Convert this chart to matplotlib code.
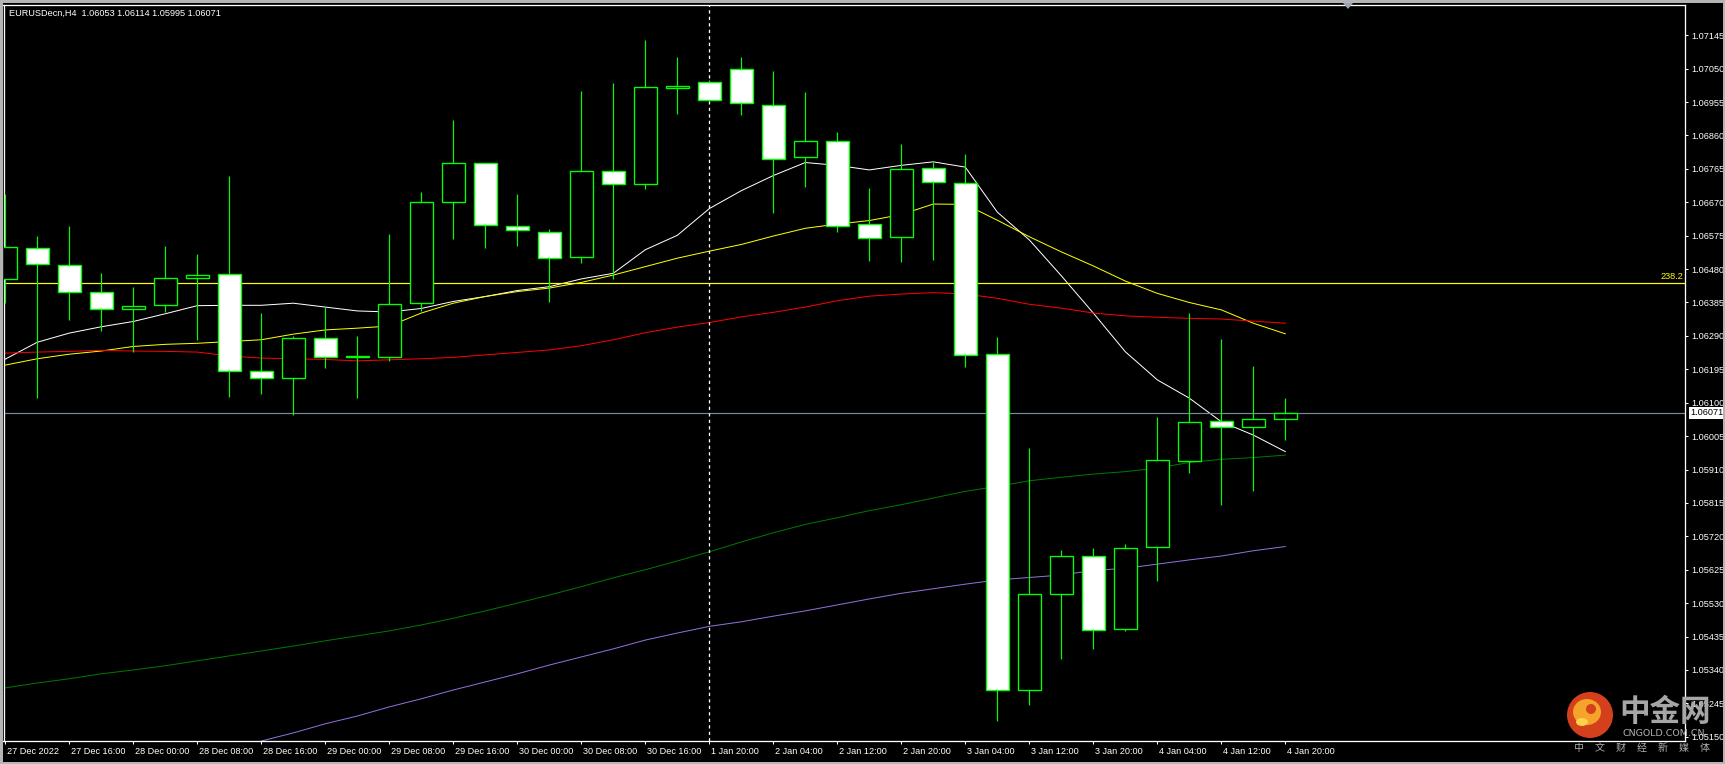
import matplotlib
matplotlib.use('Agg')                                   # no display in the sandbox
import matplotlib.pyplot as plt
import matplotlib.patches as mpatches
import matplotlib.transforms as mtrans
import numpy as np

# ---- EURUSDecn H4 candles, left to right (27 Dec 2022 .. 4 Jan 2023 20:00) ----
opens = [1.06451, 1.06539, 1.06491, 1.06414, 1.06366, 1.06377, 1.06454, 1.06465, 1.06190, 1.06170,
         1.06283, 1.06229, 1.06231, 1.06383, 1.06670, 1.06781, 1.06602, 1.06585, 1.06514, 1.06758,
         1.06721, 1.06995, 1.07012, 1.07049, 1.06947, 1.06800, 1.06844, 1.06609, 1.06571, 1.06768,
         1.06725, 1.06239, 1.05282, 1.05555, 1.05663, 1.05456, 1.05689, 1.05935, 1.06047, 1.06032,
         1.06053]
highs = [1.06694, 1.06574, 1.06603, 1.06469, 1.06429, 1.06546, 1.06523, 1.06745, 1.06355, 1.06291,
         1.06373, 1.06290, 1.06580, 1.06700, 1.06904, 1.06782, 1.06694, 1.06593, 1.06987, 1.07010,
         1.07132, 1.07082, 1.07018, 1.07084, 1.07043, 1.06983, 1.06871, 1.06710, 1.06835, 1.06785,
         1.06806, 1.06286, 1.05971, 1.05681, 1.05687, 1.05698, 1.06060, 1.06355, 1.06281, 1.06205,
         1.06114]
lows = [1.06383, 1.06112, 1.06334, 1.06305, 1.06245, 1.06359, 1.06277, 1.06116, 1.06126, 1.06064,
        1.06198, 1.06114, 1.06220, 1.06362, 1.06566, 1.06541, 1.06547, 1.06385, 1.06496, 1.06451,
        1.06709, 1.06922, 1.06958, 1.06917, 1.06640, 1.06714, 1.06586, 1.06503, 1.06500, 1.06506,
        1.06202, 1.05194, 1.05239, 1.05372, 1.05401, 1.05452, 1.05594, 1.05901, 1.05810, 1.05850,
        1.05995]
closes = [1.06542, 1.06494, 1.06414, 1.06366, 1.06375, 1.06454, 1.06463, 1.06190, 1.06170, 1.06283,
          1.06229, 1.06232, 1.06380, 1.06670, 1.06781, 1.06604, 1.06591, 1.06511, 1.06758, 1.06721,
          1.06997, 1.07001, 1.06960, 1.06952, 1.06793, 1.06844, 1.06603, 1.06568, 1.06766, 1.06727,
          1.06237, 1.05283, 1.05555, 1.05663, 1.05453, 1.05686, 1.05936, 1.06045, 1.06030, 1.06053,
          1.06071]

# moving averages, one value per bar
ma_white = [1.06224, 1.06272, 1.06298, 1.06316, 1.06331, 1.06353, 1.06376, 1.06377, 1.06377, 1.06383,
            1.06372, 1.06361, 1.06358, 1.06368, 1.06388, 1.06402, 1.06419, 1.06430, 1.06452, 1.06468,
            1.06535, 1.06576, 1.06652, 1.06703, 1.06746, 1.06783, 1.06775, 1.06762, 1.06775, 1.06785,
            1.06770, 1.06642, 1.06563, 1.06461, 1.06355, 1.06245, 1.06165, 1.06113, 1.06046, 1.06008,
            1.05961]
ma_yellow = [1.06207, 1.06225, 1.06238, 1.06247, 1.06260, 1.06266, 1.06269, 1.06274, 1.06279, 1.06295,
             1.06307, 1.06312, 1.06318, 1.06355, 1.06383, 1.06402, 1.06416, 1.06426, 1.06442, 1.06463,
             1.06487, 1.06511, 1.06531, 1.06550, 1.06574, 1.06596, 1.06608, 1.06618, 1.06635, 1.06665,
             1.06664, 1.06619, 1.06572, 1.06529, 1.06489, 1.06446, 1.06411, 1.06385, 1.06364, 1.06326,
             1.06296]
ma_red = [1.06241, 1.06244, 1.06246, 1.06249, 1.06247, 1.06246, 1.06244, 1.06233, 1.06227, 1.06225,
          1.06223, 1.06219, 1.06222, 1.06225, 1.06229, 1.06236, 1.06243, 1.06250, 1.06262, 1.06279,
          1.06299, 1.06315, 1.06328, 1.06344, 1.06357, 1.06372, 1.06390, 1.06403, 1.06409, 1.06413,
          1.06409, 1.06397, 1.06380, 1.06369, 1.06355, 1.06347, 1.06343, 1.06340, 1.06338, 1.06332,
          1.06326]
ma_green = [1.05289, 1.05303, 1.05315, 1.05329, 1.05340, 1.05352, 1.05366, 1.05380, 1.05394, 1.05408,
            1.05423, 1.05437, 1.05451, 1.05468, 1.05487, 1.05508, 1.05530, 1.05553, 1.05577, 1.05602,
            1.05625, 1.05650, 1.05676, 1.05704, 1.05730, 1.05754, 1.05773, 1.05793, 1.05810, 1.05829,
            1.05848, 1.05862, 1.05878, 1.05888, 1.05897, 1.05904, 1.05914, 1.05930, 1.05939, 1.05944,
            1.05951]
purple_start = 8                                        # purple line enters the window at bar 8
ma_purple = [1.05138, 1.05161, 1.05187, 1.05209, 1.05235, 1.05258, 1.05283, 1.05306, 1.05329, 1.05354,
             1.05377, 1.05400, 1.05425, 1.05445, 1.05464, 1.05477, 1.05493, 1.05508, 1.05525, 1.05542,
             1.05558, 1.05571, 1.05584, 1.05596, 1.05603, 1.05610, 1.05623, 1.05629, 1.05641, 1.05653,
             1.05664, 1.05679, 1.05691]

x_labels = ['27 Dec 2022', '27 Dec 16:00', '28 Dec 00:00', '28 Dec 08:00', '28 Dec 16:00',
            '29 Dec 00:00', '29 Dec 08:00', '29 Dec 16:00', '30 Dec 00:00', '30 Dec 08:00',
            '30 Dec 16:00', '1 Jan 20:00', '2 Jan 04:00', '2 Jan 12:00', '2 Jan 20:00',
            '3 Jan 04:00', '3 Jan 12:00', '3 Jan 20:00', '4 Jan 04:00', '4 Jan 12:00', '4 Jan 20:00']
y_ticks = [1.05150, 1.05245, 1.05340, 1.05435, 1.05530, 1.05625, 1.05720, 1.05815, 1.05910, 1.06005,
           1.06100, 1.06195, 1.06290, 1.06385, 1.06480, 1.06575, 1.06670, 1.06765, 1.06860, 1.06955,
           1.07050, 1.07145]

fib_level = 1.06441        # "238.2" line
bid = 1.06071
vline_bar = 22             # dotted separator at 1 Jan 20:00
title = 'EURUSDecn,H4  1.06053 1.06114 1.05995 1.06071'

# ---- figure ----
W, H = 1725, 764
PX = 0.72                  # one pixel in points at dpi 100
fx = lambda x: x / W
fy = lambda y: 1 - y / H

plt.rcParams['font.family'] = ['Liberation Sans', 'DejaVu Sans']
fig = plt.figure(figsize=(W / 100, H / 100), dpi=100, facecolor='black')
ax = fig.add_axes([fx(3.5), fy(741), fx(1685) - fx(3.5), fy(5) - fy(741)])
ax.set_facecolor('black')
ax.set_xlim(-0.056, 52.49)
ax.set_ylim(1.05138, 1.07231)

idx = np.arange(len(opens))

# moving averages (behind the candles)
ax.plot(idx, ma_white, color='white', lw=PX, zorder=2)
ax.plot(idx, ma_yellow, color='#ffff00', lw=PX, zorder=2)
ax.plot(idx, ma_red, color='#ff0000', lw=PX, zorder=2)
ax.plot(idx, ma_green, color='#007800', lw=PX, zorder=2)
ax.plot(idx[purple_start:], ma_purple, color='#9370db', lw=PX, zorder=2)

ax.axhline(fib_level, color='#ffff00', lw=PX * 1.2, zorder=2)
ax.axhline(bid, color='#778899', lw=PX * 1.2, zorder=2)
ax.axvline(vline_bar, color='white', lw=PX * 1.3, ls=(0, (2.5, 2.5)), zorder=2)

# candles
ax.vlines(idx, lows, highs, color='#00ff00', lw=PX * 1.2, zorder=4)
o = np.array(opens)
c = np.array(closes)
bottoms = np.minimum(o, c)
heights = np.maximum(np.abs(c - o), 0.000012)
faces = ['white' if cc < oo else 'black' for oo, cc in zip(o, c)]
ax.bar(idx, heights, bottom=bottoms, width=0.71, color=faces, edgecolor='#00ff00',
       linewidth=PX * 1.35, zorder=5)

# fib label
ax.annotate('238.2', xy=(1.0, fib_level), xycoords=('axes fraction', 'data'),
            xytext=(-1, 1), textcoords='offset points', ha='right', va='bottom',
            color='#ffff00', fontsize=6.6, zorder=6)

# axes frame and ticks
for s in ax.spines.values():
    s.set_color('white')
    s.set_linewidth(PX * 1.3)
ax.yaxis.tick_right()
ax.set_yticks(y_ticks)
ax.set_yticklabels(['%.5f' % v for v in y_ticks])
ax.set_xticks(idx[::2])
ax.set_xticklabels(x_labels)
ax.tick_params(axis='y', colors='white', length=3 * PX, width=PX, pad=3.5 * PX, labelsize=6.6)
ax.tick_params(axis='x', colors='white', length=3 * PX, width=PX, pad=2.5 * PX, labelsize=6.6)
shift = mtrans.ScaledTranslation(2 / 100, 0, fig.dpi_scale_trans)
for lab in ax.get_xticklabels():
    lab.set_horizontalalignment('left')
    lab.set_transform(lab.get_transform() + shift)

# current price box on the price scale
ax.annotate('%.5f' % bid, xy=(1.0, bid), xycoords=('axes fraction', 'data'),
            xytext=(5.5 * PX, 0), textcoords='offset points', ha='left', va='center',
            color='black', fontsize=6.6, annotation_clip=False, zorder=7,
            bbox=dict(boxstyle='square,pad=0.18', fc='white', ec='none'))

# title
fig.text(fx(9), fy(13), title, color='white', fontsize=6.6, va='center', ha='left')

# window border and chart-shift marker
fig.patches.append(mpatches.Rectangle((0, 0), 1, 1, transform=fig.transFigure, fill=False,
                                      ec='#b4b4b4', lw=5 * PX, zorder=10))
fig.patches.append(mpatches.Polygon([(fx(1343), fy(3)), (fx(1353), fy(3)), (fx(1348), fy(9))],
                                    closed=True, transform=fig.transFigure, fc='#9aa4b4',
                                    ec='none', zorder=11))

# watermark
fig.patches.append(mpatches.Ellipse((fx(1590), fy(715)), 46 / W, 46 / H, transform=fig.transFigure,
                                    fc='#d4401c', ec='none', zorder=12))
fig.patches.append(mpatches.Ellipse((fx(1587), fy(712)), 28 / W, 26 / H, transform=fig.transFigure,
                                    fc='#f6a32a', ec='none', zorder=13))
fig.patches.append(mpatches.Ellipse((fx(1591), fy(709)), 10 / W, 10 / H, transform=fig.transFigure,
                                    fc='#d4401c', ec='none', zorder=14))
fig.patches.append(mpatches.Ellipse((fx(1582), fy(722)), 12 / W, 8 / H, transform=fig.transFigure,
                                    fc='#fbd24a', ec='none', zorder=14))
fig.text(fx(1665), fy(712), '中金网', color='#a6a6a6', fontsize=22, fontweight='bold',
         family=['Noto Sans CJK SC', 'DejaVu Sans'], ha='center', va='center', zorder=15)
fig.text(fx(1664), fy(734), 'CNGOLD.COM.CN', color='#b0b0b0', fontsize=6.8,
         family='DejaVu Sans', ha='center', va='center', zorder=15)
tagline = ['中', '文', '财', '经', '新', '媒', '体']
for k, ch in enumerate(tagline):
    fig.text(fx(1579 + 21 * k), fy(748), ch, color='#b0b0b0', fontsize=7.2,
             family=['Noto Sans CJK SC', 'DejaVu Sans'], ha='center', va='center', zorder=15)

fig.savefig('out.png', dpi=100, facecolor='black')
